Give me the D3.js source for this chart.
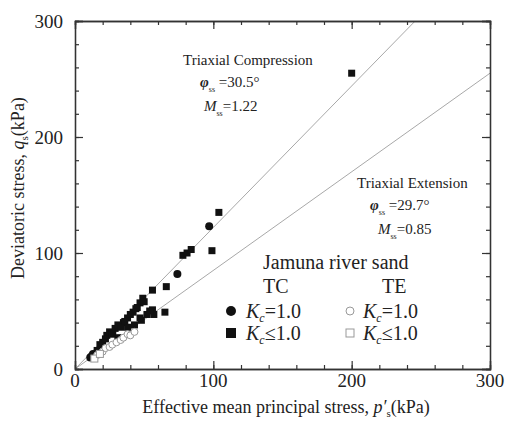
<!DOCTYPE html>
<html>
<head>
<meta charset="utf-8">
<script src="https://cdn.jsdelivr.net/npm/d3@7"></script>
<style>
  body { margin: 0; background: #fff; }
  svg text { font-family: "Liberation Serif", "DejaVu Serif", serif; fill: #222; }
</style>
</head>
<body>
<div id="chart"></div>
<script>
// data (p's, qs in kPa)
var tcSquares = [[104,135],[99,102],[78,98],[81,100],[84,103],[66,71],[56,68],[65,49],[56,51],
  [57,47],[54,50],[49,61],[47,57],[45,53],[42,49],[38,44],[35,40],[48,42],[43,38],[18,21],
  [20,23],[23,29],[25,32],[29,35],[31,38],[40,47],[31,27],[38,36],[47,44],[52,47],[200,255],
  [16,16],[22,26],[27,30],[33,36],[36,41],[44,52],[50,58]];
var tcCircles = [[11,10],[13,13],[12,11],[74,82],[97,123],[27,31]];
var teCircles = [[16,12],[20,15],[22,18],[25,19],[27,21],[30,23],[33,25],[35,27],[38,30],[40,29],[43,32]];
var teSquares = [[14,9],[18,13]];
var lineSlopes = [1.22, 0.85];
var xTicks = [0, 100, 200, 300];
var yTicks = [0, 100, 200, 300];

var width = 506, height = 430;
var svg = d3.select("#chart").append("svg")
  .attr("width", width)
  .attr("height", height);

var x = d3.scaleLinear().domain([0, 300]).range([75, 490]);
var y = d3.scaleLinear().domain([0, 300]).range([369, 21]);

// clip for the fit lines
svg.append("clipPath").attr("id", "plotclip")
  .append("rect")
  .attr("x", x(0)).attr("y", y(300))
  .attr("width", x(300) - x(0)).attr("height", y(0) - y(300));

var lines = svg.append("g").attr("clip-path", "url(#plotclip)");
lineSlopes.forEach(function(m) {
  lines.append("line")
    .attr("x1", x(0)).attr("y1", y(0))
    .attr("x2", x(300)).attr("y2", y(300 * m))
    .attr("stroke", "#a8a8a8")
    .attr("stroke-width", 1);
});

// axes, ticks pointing inside
var minor = d3.range(0, 301, 20);
svg.append("g").attr("transform", "translate(0," + y(0) + ")")
  .call(d3.axisBottom(x).tickValues(minor).tickSize(-4).tickFormat(""));
svg.append("g").attr("transform", "translate(0," + y(300) + ")")
  .call(d3.axisTop(x).tickValues(minor).tickSize(-4).tickFormat(""));
svg.append("g").attr("transform", "translate(" + x(0) + ",0)")
  .call(d3.axisLeft(y).tickValues(minor).tickSize(-4).tickFormat(""));
svg.append("g").attr("transform", "translate(" + x(300) + ",0)")
  .call(d3.axisRight(y).tickValues(minor).tickSize(-4).tickFormat(""));
svg.append("g").attr("transform", "translate(0," + y(0) + ")")
  .call(d3.axisBottom(x).tickValues(xTicks).tickSize(-8).tickFormat(""));
svg.append("g").attr("transform", "translate(" + x(300) + ",0)")
  .call(d3.axisRight(y).tickValues(yTicks).tickSize(-8).tickFormat(""));
svg.append("g").attr("transform", "translate(" + x(0) + ",0)")
  .call(d3.axisLeft(y).tickValues(yTicks).tickSize(-8).tickFormat(""));
svg.append("g").attr("transform", "translate(0," + y(300) + ")")
  .call(d3.axisTop(x).tickValues(xTicks).tickSize(-8).tickFormat(""));
svg.selectAll(".domain").attr("stroke", "#333").attr("stroke-width", 1.3);
svg.selectAll(".tick line").attr("stroke", "#333").attr("stroke-width", 1.2);

// tick labels
svg.append("g").selectAll("text").data(xTicks).join("text")
  .attr("x", function(d) { return x(d); })
  .attr("y", 387)
  .attr("text-anchor", "middle")
  .attr("font-size", 19)
  .text(function(d) { return d; });
svg.append("g").selectAll("text").data(yTicks).join("text")
  .attr("x", 63)
  .attr("y", function(d) { return y(d) + 7; })
  .attr("text-anchor", "end")
  .attr("font-size", 19)
  .text(function(d) { return d; });

// axis titles
var xt2 = svg.append("text")
  .attr("x", 286).attr("y", 413)
  .attr("text-anchor", "middle")
  .attr("font-size", 18);
xt2.append("tspan").text("Effective mean principal stress, ");
xt2.append("tspan").attr("font-style", "italic").text("p′");
xt2.append("tspan").attr("font-size", 11).attr("dy", 4).text("s");
xt2.append("tspan").attr("dy", -4).text("(kPa)");

var yt = svg.append("text")
  .attr("transform", "translate(24,188) rotate(-90)")
  .attr("text-anchor", "middle")
  .attr("font-size", 18);
yt.append("tspan").text("Deviatoric stress, ");
yt.append("tspan").attr("font-style", "italic").text("q");
yt.append("tspan").attr("font-size", 11).attr("dy", 4).text("s");
yt.append("tspan").attr("dy", -4).text("(kPa)");

// annotations
function annot(x0, yy, title, phi, mss, dphi, dm) {
  svg.append("text").attr("x", x0).attr("y", yy).attr("font-size", 15).text(title);
  var t1 = svg.append("text").attr("x", x0 + dphi).attr("y", yy + 22).attr("font-size", 15);
  t1.append("tspan").attr("font-style", "italic").attr("font-weight", "bold").text("φ");
  t1.append("tspan").attr("font-size", 8).attr("dy", 5).text("ss");
  t1.append("tspan").attr("dy", -5).text(" =" + phi + "°");
  var t2 = svg.append("text").attr("x", x0 + dm).attr("y", yy + 46).attr("font-size", 15);
  t2.append("tspan").attr("font-style", "italic").text("M");
  t2.append("tspan").attr("font-size", 8).attr("dy", 5).text("ss");
  t2.append("tspan").attr("dy", -5).text("=" + mss);
}
annot(183, 65, "Triaxial Compression", "30.5", "1.22", 17, 21);
annot(357, 188, "Triaxial Extension", "29.7", "0.85", 13, 21);

// data markers
var sq = 7;
svg.append("g").selectAll("rect").data(tcSquares).join("rect")
  .attr("x", function(d) { return x(d[0]) - sq / 2; })
  .attr("y", function(d) { return y(d[1]) - sq / 2; })
  .attr("width", sq).attr("height", sq)
  .attr("fill", "#111");
svg.append("g").selectAll("circle").data(tcCircles).join("circle")
  .attr("cx", function(d) { return x(d[0]); })
  .attr("cy", function(d) { return y(d[1]); })
  .attr("r", 4)
  .attr("fill", "#111");
svg.append("g").selectAll("circle").data(teCircles).join("circle")
  .attr("cx", function(d) { return x(d[0]); })
  .attr("cy", function(d) { return y(d[1]); })
  .attr("r", 3.5)
  .attr("fill", "#fff").attr("stroke", "#999").attr("stroke-width", 1);
svg.append("g").selectAll("rect").data(teSquares).join("rect")
  .attr("x", function(d) { return x(d[0]) - 3.5; })
  .attr("y", function(d) { return y(d[1]) - 3.5; })
  .attr("width", 7).attr("height", 7)
  .attr("fill", "#fff").attr("stroke", "#999").attr("stroke-width", 1);

// legend
var lg = svg.append("g");
lg.append("text").attr("x", 263).attr("y", 269).attr("font-size", 20).text("Jamuna river sand");
lg.append("text").attr("x", 263).attr("y", 293).attr("font-size", 20).text("TC");
lg.append("text").attr("x", 382).attr("y", 293).attr("font-size", 20).text("TE");

function kcLabel(x0, yy, rel) {
  var t = lg.append("text").attr("x", x0).attr("y", yy).attr("font-size", 20);
  t.append("tspan").attr("font-style", "italic").text("K");
  t.append("tspan").attr("font-style", "italic").attr("font-size", 12).attr("dy", 4).text("c");
  t.append("tspan").attr("dy", -4).text(rel + "1.0");
}
lg.append("circle").attr("cx", 231).attr("cy", 311).attr("r", 5).attr("fill", "#111");
kcLabel(246, 318, "=");
lg.append("rect").attr("x", 226).attr("y", 328).attr("width", 10).attr("height", 10).attr("fill", "#111");
kcLabel(246, 340, "≤");
lg.append("circle").attr("cx", 350).attr("cy", 311).attr("r", 4).attr("fill", "#fff").attr("stroke", "#999");
kcLabel(363, 318, "=");
lg.append("rect").attr("x", 346).attr("y", 329).attr("width", 8).attr("height", 8).attr("fill", "#fff").attr("stroke", "#999");
kcLabel(363, 340, "≤");
</script>
</body>
</html>
